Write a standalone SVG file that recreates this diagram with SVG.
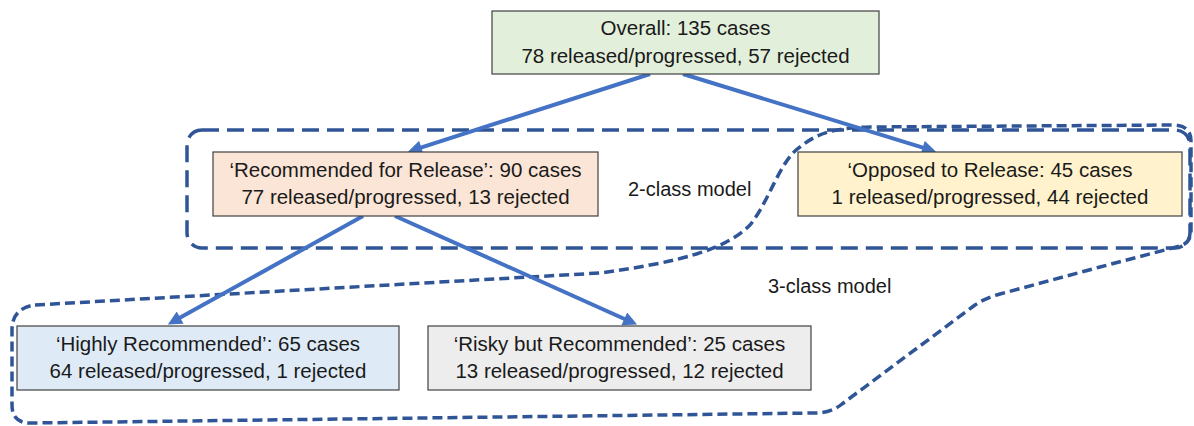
<svg xmlns="http://www.w3.org/2000/svg" width="1194" height="426" viewBox="0 0 1194 426">
<style>
.box{stroke:#404040;stroke-width:1.2}
.t{font-family:"Liberation Sans",Arial,sans-serif;font-size:20.5px;fill:#1a1a1a;text-anchor:middle}
.lbl{font-family:"Liberation Sans",Arial,sans-serif;font-size:20px;fill:#1a1a1a}
.edge{stroke:#4472C4;stroke-width:4;fill:none;marker-end:url(#ah)}
.g2{fill:none;stroke:#2F5597;stroke-width:3.5;stroke-dasharray:17 8}
.g3{fill:none;stroke:#2F5597;stroke-width:3.5;stroke-dasharray:10 5}
</style>
<defs>
<marker id="ah" markerUnits="userSpaceOnUse" viewBox="0 0 10 10" markerWidth="16" markerHeight="14" refX="5" refY="5" orient="auto">
<path d="M0,0 L10,5 L0,10 z" fill="#4472C4"/>
</marker>
</defs>
<g id="groups">
<rect id="two-class" class="g2" x="187" y="130" width="1003" height="118" rx="15" ry="15"/>
<path id="three-class" class="g3" d="M35,305 L600,273 C680,262 725,250 750,225 C770,200 780,160 800,147 C815,135 830,128 870,127 L1175,125 Q1191,126 1191,141 L1191,230 Q1191,243 1180,246 L1100,267 L1000,294 Q985,298 975,305 L842,404 Q831,413 815,413 L30,423 Q12,423 12,405 L12,330 Q12,308 35,305 Z"/>
<text class="lbl" x="628" y="196">2-class model</text>
<text class="lbl" x="768" y="293">3-class model</text>
</g>
<g id="connectors">
<line class="edge" x1="650" y1="74" x2="414.6" y2="149.6"/>
<line class="edge" x1="683" y1="74" x2="929.4" y2="149.6"/>
<line class="edge" x1="363" y1="216" x2="174" y2="321.1"/>
<line class="edge" x1="395" y1="216" x2="630.7" y2="321.7"/>
</g>
<g id="overall">
<rect class="box" x="492" y="11" width="387" height="63" fill="#E2EFDA"/>
<text class="t" x="685.5" y="35">Overall: 135 cases</text>
<text class="t" x="685.5" y="63">78 released/progressed, 57 rejected</text>
</g>
<g id="recommended">
<rect class="box" x="213" y="152" width="385" height="64" fill="#FBE5D6"/>
<text class="t" x="405.5" y="177">‘Recommended for Release’: 90 cases</text>
<text class="t" x="405.5" y="204">77 released/progressed, 13 rejected</text>
</g>
<g id="opposed">
<rect class="box" x="798" y="152" width="384" height="64" fill="#FFF2CC"/>
<text class="t" x="990" y="177">‘Opposed to Release: 45 cases</text>
<text class="t" x="990" y="204">1 released/progressed, 44 rejected</text>
</g>
<g id="highly">
<rect class="box" x="17" y="326" width="382" height="64" fill="#DEEBF7"/>
<text class="t" x="208" y="351">‘Highly Recommended’: 65 cases</text>
<text class="t" x="208" y="378">64 released/progressed, 1 rejected</text>
</g>
<g id="risky">
<rect class="box" x="428" y="326" width="383" height="64" fill="#EDEDED"/>
<text class="t" x="619.5" y="351">‘Risky but Recommended’: 25 cases</text>
<text class="t" x="619.5" y="378">13 released/progressed, 12 rejected</text>
</g>
</svg>
